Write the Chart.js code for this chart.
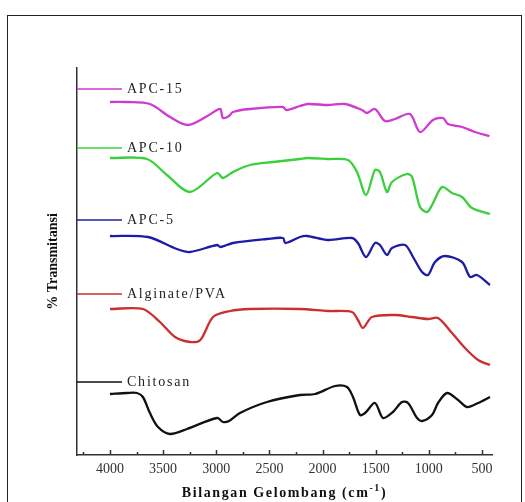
<!DOCTYPE html>
<html>
<head>
<meta charset="utf-8">
<script src="https://cdn.jsdelivr.net/npm/chart.js@4.4.1/dist/chart.umd.min.js"></script>
<style>
  html, body { margin: 0; padding: 0; background: #fff; }
  canvas { display: block; }
</style>
</head>
<body>
<canvas id="ftir" width="525" height="502"></canvas>
<script>
// FTIR spectra: [wavenumber (cm-1), offset transmittance]
const seriesNames = ['APC-15', 'APC-10', 'APC-5', 'Alginate/PVA', 'Chitosan'];
const seriesColors = ['#cf3acf', '#3ccf3c', '#1c1ca6', '#cc2e2e', '#111111'];
const labelLevels = [366, 307, 235, 161, 73];

const apc15 = [
  [4000, 353], [3850, 353], [3624, 351], [3435, 338], [3266, 330], [3100, 338],
  [2993, 345], [2960, 346], [2937, 337], [2880, 339], [2843, 343], [2683, 346],
  [2372, 348], [2340, 345], [2212, 349], [2137, 351], [1949, 350], [1789, 351],
  [1629, 345], [1582, 342], [1507, 346], [1413, 334], [1318, 336], [1177, 341],
  [1083, 323], [961, 335], [867, 337], [820, 331], [688, 328], [566, 323], [430, 319]
];
const apc10 = [
  [4000, 297], [3652, 296], [3464, 280], [3247, 263], [2993, 282], [2937, 277],
  [2843, 283], [2683, 290], [2466, 293], [2212, 296], [2146, 297], [1949, 296],
  [1761, 295], [1676, 283], [1591, 260], [1507, 285], [1460, 283], [1394, 263],
  [1347, 273], [1206, 281], [1158, 278], [1083, 248], [1017, 243], [970, 250],
  [876, 268], [782, 262], [688, 258], [594, 247], [425, 241]
];
const apc5 = [
  [4000, 219], [3643, 218], [3370, 206], [3247, 203], [2993, 210], [2960, 208],
  [2843, 212], [2523, 216], [2372, 217], [2350, 212], [2212, 218], [2146, 219],
  [1949, 215], [1723, 217], [1667, 212], [1591, 198], [1507, 212], [1460, 210],
  [1394, 200], [1347, 207], [1224, 210], [1149, 198], [1064, 183], [1008, 180],
  [942, 193], [848, 199], [688, 193], [612, 178], [547, 180], [425, 170]
];
const alginatePva = [
  [4000, 146], [3690, 146], [3530, 133], [3388, 118], [3247, 113], [3150, 115],
  [3030, 138], [2870, 144], [2683, 146], [2212, 146], [1949, 144], [1723, 143],
  [1667, 135], [1620, 127], [1535, 138], [1318, 140], [1158, 138], [1008, 136],
  [914, 137], [782, 122], [660, 107], [537, 95], [425, 90]
];
const chitosan = [
  [4000, 61], [3840, 62], [3746, 62], [3690, 58], [3624, 42], [3548, 28],
  [3435, 21], [3276, 26], [2993, 37], [2937, 33], [2880, 34], [2777, 42],
  [2523, 53], [2212, 60], [2070, 61], [1882, 69], [1770, 68], [1714, 58],
  [1648, 40], [1600, 42], [1507, 52], [1432, 37], [1338, 43], [1253, 53],
  [1196, 52], [1111, 37], [1064, 34], [970, 40], [914, 52], [829, 62],
  [725, 55], [641, 48], [537, 52], [425, 58]
];
const spectra = [apc15, apc10, apc5, alginatePva, chitosan];

const keyEnd = 3887;
const labelStart = 3840;

const labelsPlugin = {
  id: 'ftirDecor',
  afterDraw(chart) {
    const ctx = chart.ctx;
    const x = chart.scales.x;
    const y = chart.scales.y;
    const area = chart.chartArea;
    ctx.save();

    // frame round the figure
    ctx.strokeStyle = '#222';
    ctx.lineWidth = 1;
    ctx.strokeRect(7.5, 15.5, 514, 500);

    // inward ticks on the bottom axis
    ctx.strokeStyle = '#333';
    ctx.lineWidth = 1.5;
    x.ticks.forEach(t => {
      const px = Math.round(x.getPixelForValue(t.value)) + 0.5;
      const len = t.value % 500 === 0 ? 5 : 3;
      ctx.beginPath();
      ctx.moveTo(px, area.bottom);
      ctx.lineTo(px, area.bottom - len);
      ctx.stroke();
    });

    // key lines and series names
    ctx.font = '14px "Liberation Serif", serif';
    ctx.letterSpacing = '1.8px';
    ctx.textBaseline = 'middle';
    ctx.textAlign = 'left';
    seriesNames.forEach((name, i) => {
      const py = y.getPixelForValue(labelLevels[i]);
      ctx.strokeStyle = seriesColors[i];
      ctx.lineWidth = 1.5;
      ctx.beginPath();
      ctx.moveTo(area.left, py);
      ctx.lineTo(x.getPixelForValue(keyEnd), py);
      ctx.stroke();
      ctx.fillStyle = '#222';
      ctx.fillText(name, x.getPixelForValue(labelStart), py);
    });

    // axis titles
    ctx.fillStyle = '#111';
    ctx.letterSpacing = '1.6px';
    const main = 'Bilangan Gelombang (cm';
    const sup = '-1';
    const tail = ')';
    ctx.font = 'bold 14px "Liberation Serif", serif';
    const wMain = ctx.measureText(main).width;
    ctx.font = 'bold 10px "Liberation Serif", serif';
    const wSup = ctx.measureText(sup).width;
    ctx.font = 'bold 14px "Liberation Serif", serif';
    const wTail = ctx.measureText(tail).width;
    let tx = (area.left + area.right) / 2 - (wMain + wSup + wTail) / 2;
    const ty = 493;
    ctx.fillText(main, tx, ty);
    tx += wMain;
    ctx.font = 'bold 10px "Liberation Serif", serif';
    ctx.fillText(sup, tx, ty - 5);
    tx += wSup;
    ctx.font = 'bold 14px "Liberation Serif", serif';
    ctx.fillText(tail, tx, ty);

    ctx.letterSpacing = '0px';
    ctx.translate(53, (area.top + area.bottom) / 2);
    ctx.rotate(-Math.PI / 2);
    ctx.textAlign = 'center';
    ctx.fillText('% Transmitansi', 0, 0);
    ctx.restore();
  }
};

new Chart(document.getElementById('ftir'), {
  type: 'line',
  data: {
    datasets: spectra.map((pts, i) => ({
      label: seriesNames[i],
      data: pts.map(p => ({ x: p[0], y: p[1] })),
      borderColor: seriesColors[i],
      borderWidth: 2.3,
      pointRadius: 0,
      tension: 0.3,
      fill: false
    }))
  },
  options: {
    responsive: false,
    animation: false,
    layout: { padding: { left: 77, right: 33, top: 68, bottom: 0 } },
    plugins: {
      legend: { display: false },
      tooltip: { enabled: false }
    },
    scales: {
      x: {
        type: 'linear',
        reverse: true,
        min: 406,
        max: 4310,
        afterFit: s => { s.height = 47; },
        grid: { display: false, drawTicks: false },
        border: { display: true, color: '#333', width: 1.5 },
        ticks: {
          stepSize: 250,
          includeBounds: false,
          autoSkip: false,
          maxRotation: 0,
          padding: 6,
          color: '#333',
          font: { family: '"Liberation Serif", serif', size: 14 },
          callback: v => (v % 500 === 0 ? String(v) : '')
        }
      },
      y: {
        min: 0,
        max: 387,
        afterFit: s => { s.width = 0; },
        grid: { display: false, drawTicks: false },
        border: { display: true, color: '#333', width: 1.5 },
        ticks: { display: false }
      }
    }
  },
  plugins: [labelsPlugin]
});
</script>
</body>
</html>
